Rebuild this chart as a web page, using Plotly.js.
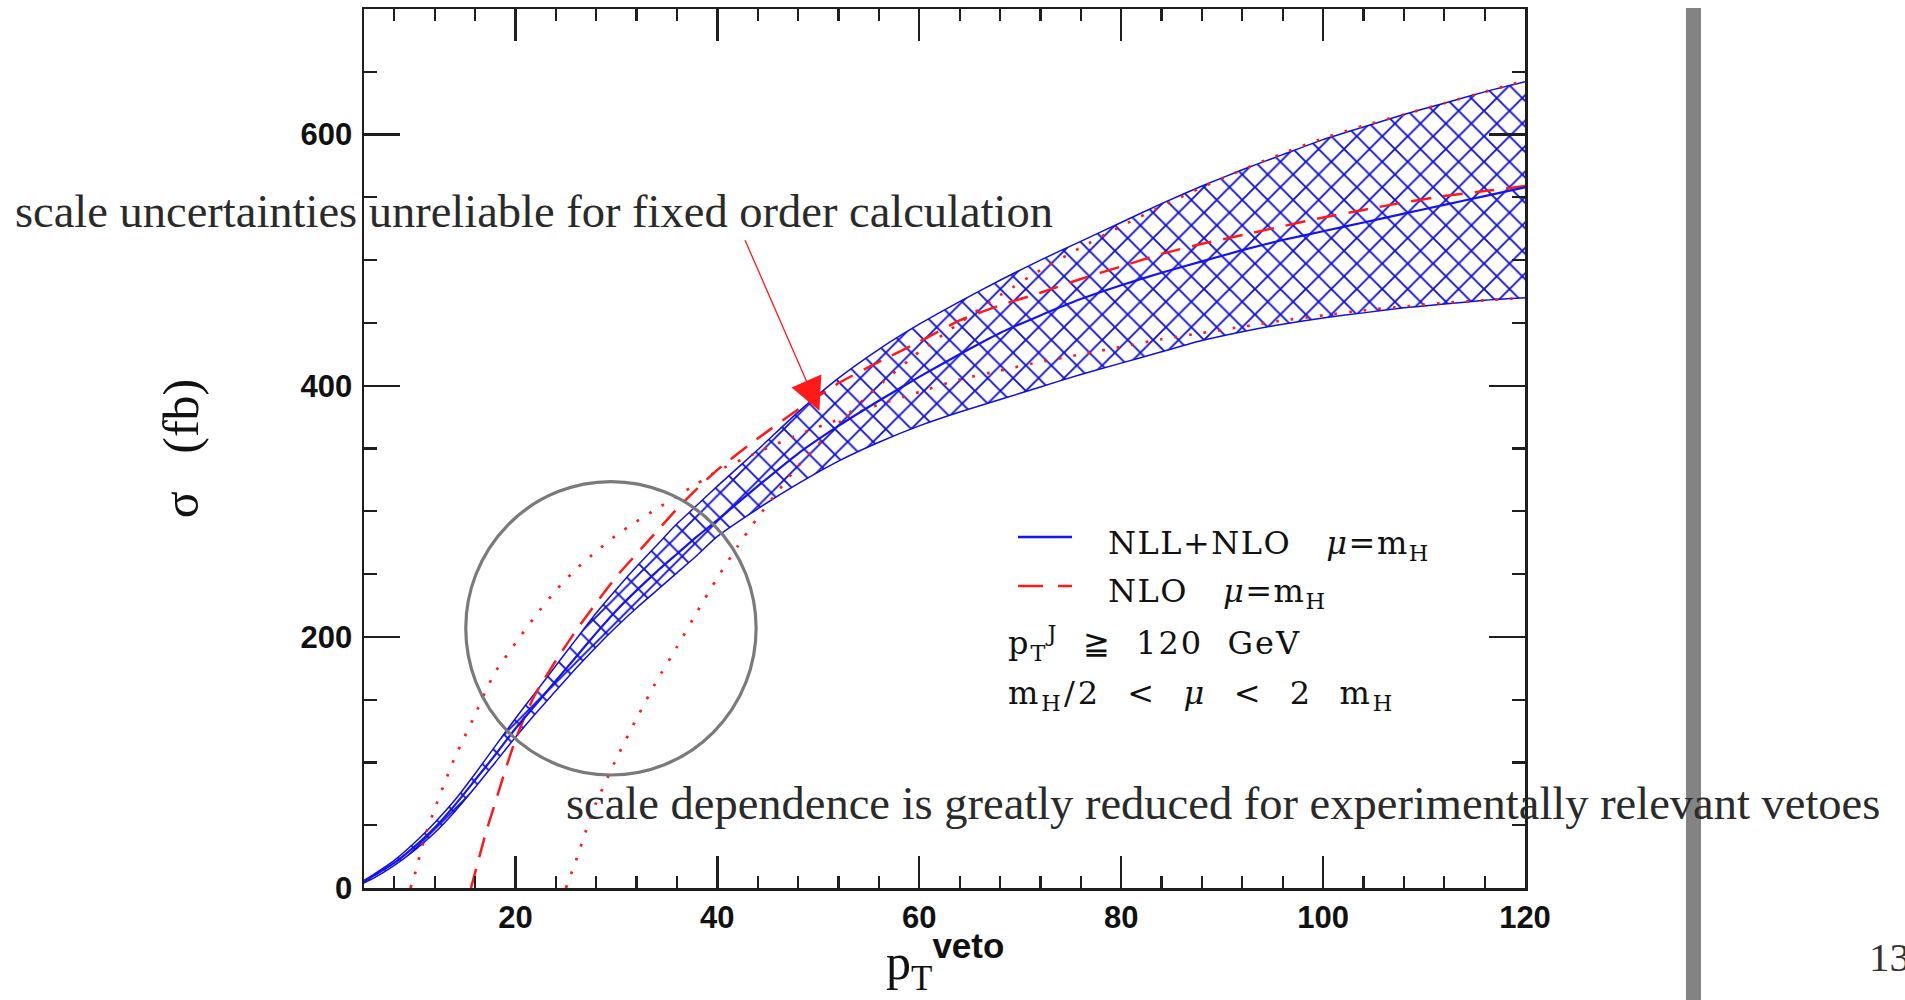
<!DOCTYPE html>
<html>
<head>
<meta charset="utf-8">
<script src="https://cdn.plot.ly/plotly-3.0.1.min.js"></script>
<style>
  html, body { margin: 0; padding: 0; background: #ffffff; }
  #chart { width: 1905px; height: 1000px; }
</style>
</head>
<body>
<div id="chart"></div>
<script>
// ---------------- data ----------------
// NLL+NLO, mu = mH, with its scale-uncertainty band (mH/2 < mu < 2 mH)
const pT = [5,6,8,10,12,14,16,18,20,22,24,26,28,30,32,34,36,38,40,44,48,52,56,60,64,68,72,76,80,84,88,92,96,100,104,108,112,116,120];
const nllNloCentral = [5,10,20,33,48,66,86,106,127,146,165,184,203,221,237,252,266,280,293,320,346,368,388,407,425,442,456,469,480,490,499,508,516,523,530,537,544,551,558];
const bandUpper = [6,11,22,36,52,70,91,113,135,156,177,198,219,238,256,273,290,305,320,349,379,406,429,449,467,484,500,515,530,545,559,572,584,596,606,616,625,634,642];
const bandLower = [4,8,18,30,44,61,80,100,120,139,157,175,192,208,223,237,251,265,280,302,322,340,355,368,379,389,399,409,418,427,436,443,449,454,458,462,465,468,470];

// NLO, mu = mH (dashed)
const nloX = [15.6,16,17,18,19,20,21,22,24,26,28,30,32,34,36,38,40,44,48,52,56,60,64,68,72,76,80,84,88,92,96,100,104,108,112,116,120];
const nloCentral = [0,12,42,68,94,118,138,155,181,205,227,248,266,284,302,318,333,358,381,402,419,435,452,464,474,485,495,505,513,520,527,534,540,546,551,555,559];

// NLO scale variations (dotted)
const nloVarAX = [9.6,10,11,12,13,14,15,16,17,18,20,22,24,26,28,30,32,34,36,38,40,44,48,52,56,60,64,68,72,76,80,84,88,92,96,100,104,108,112,116,120];
const nloVarA = [0,10,40,63,84,104,121,138,156,172,195,217,237,254,268,281,292,302,312,322,332,347,361,373,385,395,405,412,419,425,431,437,442,447,452,456,460,463,466,468,470];
const nloVarBX = [25,26,27,28,30,32,34,36,38,40,42,44,46,48,52,56,60,64,68,72,76,80,84,88,92,96,100,104,108,112,116,120];
const nloVarB = [0,22,46,68,103,135,165,192,220,247,272,295,316,336,370,400,427,450,472,492,510,527,543,558,572,585,597,607,616,625,634,643];

// axis ticks
const xMajorTicks = [20,40,60,80,100,120];
const yMajorTicks = [0,200,400,600];

// texts
const noteTop = "scale uncertainties unreliable for fixed order calculation";
const noteBottom = "scale dependence is greatly reduced for experimentally relevant vetoes";
const legendLines = [
  '<span style="letter-spacing:1.5px">NLL+NLO\u00A0\u00A0\u00A0<i>\u03BC</i>=m<sub>H</sub></span>',
  '<span style="letter-spacing:1.5px">NLO\u00A0\u00A0\u00A0<i>\u03BC</i>=m<sub>H</sub></span>',
  '<span style="letter-spacing:2px">p<sub>T</sub><sup>J</sup>\u00A0\u00A0\u2267\u00A0\u00A0120\u00A0\u00A0GeV</span>',
  '<span style="letter-spacing:3px">m<sub>H</sub>/2\u00A0\u00A0&lt;\u00A0\u00A0<i>\u03BC</i>\u00A0\u00A0&lt;\u00A0\u00A02\u00A0\u00A0m<sub>H</sub></span>'
];
const xTitle = 'p<sub>T</sub><sup><span style="font-family:Liberation Sans;font-weight:bold">veto</span></sup>';
const yTitle = '\u03C3\u00A0\u00A0 (fb)';
const pageNumber = "13";

// ---------------- layout geometry ----------------
const W = 1905, H = 1000;
const PL = 364, PR = 1525, PT = 9, PB = 888;
const px = v => (v - PL) / (PR - PL);
const py = v => (PB - v) / (PB - PT);

const blue = '#1414f0';
const hatchBlue = '#1010d8';
const red = '#ff1a1a';
const axisColor = '#1e1e1e';

const traces = [
  { x: pT, y: bandLower, type: 'scatter', mode: 'lines', showlegend: false,
    line: { color: hatchBlue, width: 1.5, shape: 'spline', smoothing: 0.6 }, hoverinfo: 'skip' },
  { x: pT, y: bandUpper, type: 'scatter', mode: 'lines', showlegend: false,
    fill: 'tonexty', fillcolor: 'rgba(0,0,0,0)',
    fillpattern: { shape: 'x', size: 18, solidity: 0.2, fgcolor: hatchBlue, fgopacity: 1, bgcolor: 'rgba(255,255,255,0)', fillmode: 'overlay' },
    line: { color: hatchBlue, width: 1.5, shape: 'spline', smoothing: 0.6 }, hoverinfo: 'skip' },
  { x: nloVarAX, y: nloVarA, type: 'scatter', mode: 'lines', showlegend: false,
    line: { color: red, width: 2.7, dash: '2.7px,12px', shape: 'spline', smoothing: 0.5 } },
  { x: nloVarBX, y: nloVarB, type: 'scatter', mode: 'lines', showlegend: false,
    line: { color: red, width: 2.7, dash: '2.7px,12px', shape: 'spline', smoothing: 0.5 } },
  { x: nloX, y: nloCentral, type: 'scatter', mode: 'lines', showlegend: false, name: 'NLO',
    line: { color: red, width: 2.5, dash: '20px,12px', shape: 'spline', smoothing: 0.5 } },
  { x: pT, y: nllNloCentral, type: 'scatter', mode: 'lines', showlegend: false, name: 'NLL+NLO',
    line: { color: blue, width: 2.2, shape: 'spline', smoothing: 0.5 } }
];

const serif = 'Liberation Serif, Times New Roman, serif';
const legFont = { family: 'DejaVu Serif, serif', size: 32, color: '#111111' };

const annotations = [
  { xref: 'paper', yref: 'paper', x: px(13), y: py(211.5), xanchor: 'left', yanchor: 'middle',
    text: noteTop, showarrow: false, font: { family: serif, size: 46.5, color: '#2a2a2a' } },
  { xref: 'paper', yref: 'paper', x: px(564), y: py(803), xanchor: 'left', yanchor: 'middle',
    text: noteBottom, showarrow: false, font: { family: serif, size: 46.5, color: '#2a2a2a' } },
  { xref: 'x', yref: 'y', x: 50.11, y: 380.1, axref: 'x', ayref: 'y', ax: 42.68, ay: 517.1,
    text: '', showarrow: true, arrowhead: 2, arrowsize: 5, arrowwidth: 1.3, arrowcolor: red, standoff: 0, startstandoff: 0 },
  { xref: 'paper', yref: 'paper', x: px(1106), y: py(544.5), xanchor: 'left', yanchor: 'middle',
    text: legendLines[0], showarrow: false, font: legFont },
  { xref: 'paper', yref: 'paper', x: px(1106), y: py(593), xanchor: 'left', yanchor: 'middle',
    text: legendLines[1], showarrow: false, font: legFont },
  { xref: 'paper', yref: 'paper', x: px(1006), y: py(642.5), xanchor: 'left', yanchor: 'middle',
    text: legendLines[2], showarrow: false, font: legFont },
  { xref: 'paper', yref: 'paper', x: px(1006), y: py(694.5), xanchor: 'left', yanchor: 'middle',
    text: legendLines[3], showarrow: false, font: legFont },
  // x-axis title (drawn as an annotation so that it can sit as low as in the reference)
  { xref: 'paper', yref: 'paper', x: 0.5, y: py(1000), xanchor: 'center', yanchor: 'bottom',
    text: xTitle, showarrow: false, font: { family: serif, size: 50, color: '#111111' } },
  { xref: 'paper', yref: 'paper', x: px(1867), y: py(957), xanchor: 'left', yanchor: 'middle',
    text: pageNumber, showarrow: false, font: { family: serif, size: 41, color: '#333333' } }
];

const shapes = [
  { type: 'circle', xref: 'x', yref: 'y', x0: 15.08, x1: 43.84, y0: 90, y1: 323.7,
    line: { color: '#7a7a7a', width: 3.2 }, layer: 'above' },
  { type: 'rect', xref: 'paper', yref: 'paper', x0: px(1686), x1: px(1701), y0: py(1000), y1: py(8),
    fillcolor: '#838383', line: { width: 0 }, layer: 'above' },
  { type: 'line', xref: 'paper', yref: 'paper', x0: px(1018), x1: px(1072), y0: py(537), y1: py(537),
    line: { color: blue, width: 2.4 } },
  { type: 'line', xref: 'paper', yref: 'paper', x0: px(1018), x1: px(1072), y0: py(586), y1: py(586),
    line: { color: red, width: 2.4, dash: '25px,15px' } }
];

const axisCommon = {
  showline: true, linecolor: axisColor, linewidth: 2.5, mirror: 'ticks',
  ticks: 'inside', tickwidth: 2.4, tickcolor: axisColor,
  showgrid: false, zeroline: false, fixedrange: true,
  tickfont: { family: 'Liberation Sans, Arial, sans-serif', size: 31, color: '#111111', weight: 'bold' }
};

const layout = {
  width: W, height: H,
  margin: { l: PL, r: W - PR, t: PT, b: H - PB, pad: 0 },
  paper_bgcolor: '#ffffff', plot_bgcolor: '#ffffff',
  showlegend: false,
  xaxis: Object.assign({}, axisCommon, {
    range: [5, 120], tickmode: 'array', tickvals: xMajorTicks, ticklen: 32, ticklabelstandoff: 0,
    minor: { dtick: 4, tick0: 0, ticks: 'inside', ticklen: 12, tickwidth: 2.2, tickcolor: axisColor, showgrid: false }
  }),
  yaxis: Object.assign({}, axisCommon, {
    range: [0, 700], tickmode: 'array', tickvals: yMajorTicks, ticklen: 36, ticklabelstandoff: 3,
    minor: { dtick: 50, tick0: 0, ticks: 'inside', ticklen: 13, tickwidth: 2.2, tickcolor: axisColor, showgrid: false },
    title: { text: yTitle, standoff: 86, font: { family: serif, size: 50, color: '#111111' } }
  }),
  annotations: annotations,
  shapes: shapes
};

Plotly.newPlot('chart', traces, layout, { displayModeBar: false, staticPlot: true });
</script>
</body>
</html>
